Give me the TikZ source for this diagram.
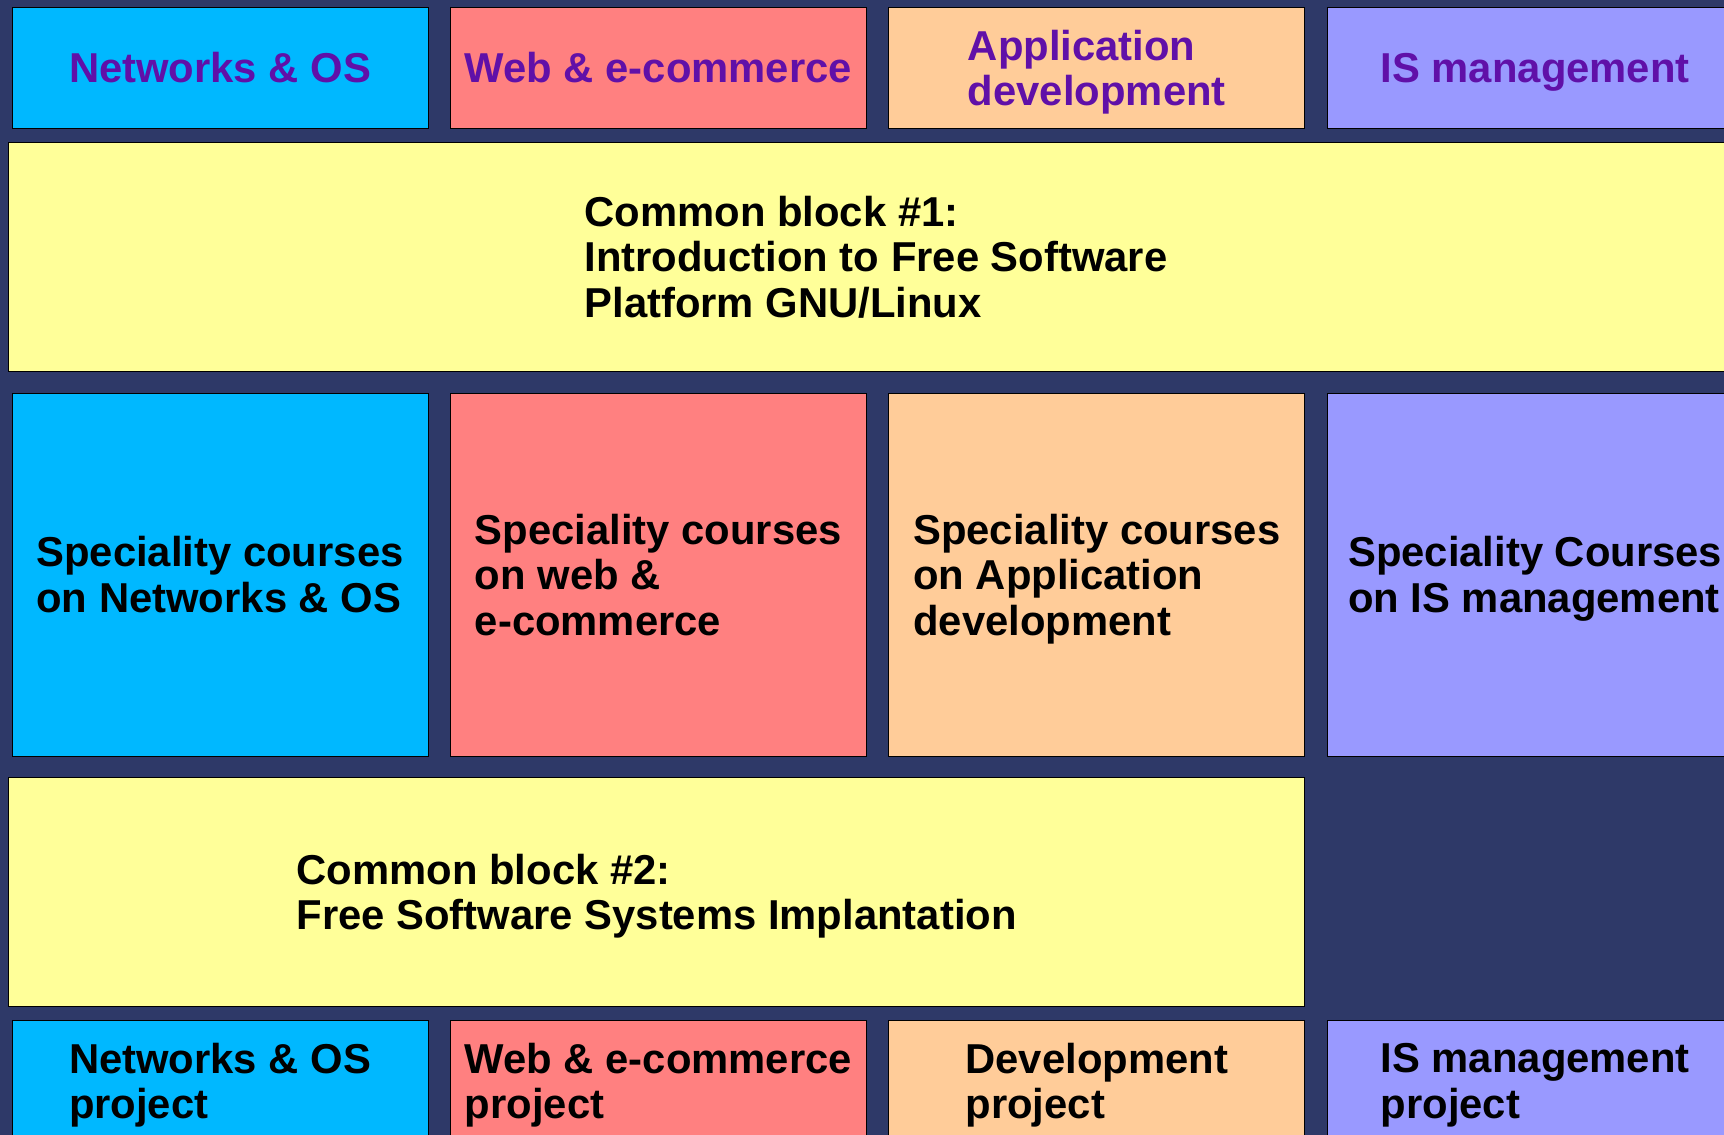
\documentclass[tikz,border=0pt]{standalone}
\usepackage{fontspec}
\setmainfont{Liberation Sans}
\usepackage{xcolor}
\usepackage{tikz}
\usetikzlibrary{positioning}
\definecolor{backdrop}{RGB}{46,57,104}
\definecolor{netblue}{RGB}{0,184,255}
\definecolor{websalmon}{RGB}{255,128,128}
\definecolor{devpeach}{RGB}{255,204,153}
\definecolor{islavender}{RGB}{153,153,255}
\definecolor{common}{RGB}{255,255,153}
\definecolor{headtext}{RGB}{96,16,168}
\tikzset{
    block/.style={rectangle, draw=black, line width=0.5pt, inner sep=0pt, align=left, text depth=0pt, font=\fontsize{20.9pt}{22.8pt}\selectfont\bfseries},
    track/.style={block, minimum width=208pt, minimum height=60.5pt, text=headtext},
    speciality/.style={block, minimum width=208pt, minimum height=181.5pt},
    project/.style={block, minimum width=208pt, minimum height=60.5pt},
    commonblock/.style={block, fill=common, minimum height=114.5pt}
}

\begin{document}
\begin{tikzpicture}[x=0.5pt, y=-0.5pt]
    % Background
    \fill[backdrop] (0,0) rectangle (1724,1135);
    \useasboundingbox (0,0) rectangle (1724,1135);

    % Tracks
    \node[track, fill=netblue] (nethead) at (220,67.8) {Networks \& OS};
    \node[track, fill=websalmon] (webhead) at (658.4,67.8) {Web \& e-commerce};
    \node[track, fill=devpeach] (devhead) at (1096.8,67.8) {Application\\ development};
    \node[track, fill=islavender] (ishead) at (1535.2,67.8) {IS management};

    % Common block 1
    \node[commonblock, minimum width=867.3pt] (common1) at (876,256.8) {Common block \#1:\\ Introduction to Free Software\\ Platform GNU/Linux};

    % Speciality courses
    \node[speciality, fill=netblue] (netspec) at (220,574.5) {Speciality courses\\ on Networks \& OS};
    \node[speciality, fill=websalmon] (webspec) at (658.4,574.5) {Speciality courses\\ on web \&\\ e-commerce};
    \node[speciality, fill=devpeach] (devspec) at (1096.8,574.5) {Speciality courses\\ on Application\\ development};
    \node[speciality, fill=islavender] (isspec) at (1535.2,574.5) {Speciality Courses\\ on IS management};

    % Common block 2
    \node[commonblock, minimum width=648pt] (common2) at (656.7,891.7) {Common block \#2:\\ Free Software Systems Implantation};

    % Projects
    \node[project, fill=netblue] (netproj) at (220,1080.8) {Networks \& OS\\ project};
    \node[project, fill=websalmon] (webproj) at (658.4,1080.8) {Web \& e-commerce\\ project};
    \node[project, fill=devpeach] (devproj) at (1096.8,1080.8) {Development\\ project};
    \node[project, fill=islavender] (isproj) at (1535.2,1080.8) {IS management\\ project};
\end{tikzpicture}
\end{document}
